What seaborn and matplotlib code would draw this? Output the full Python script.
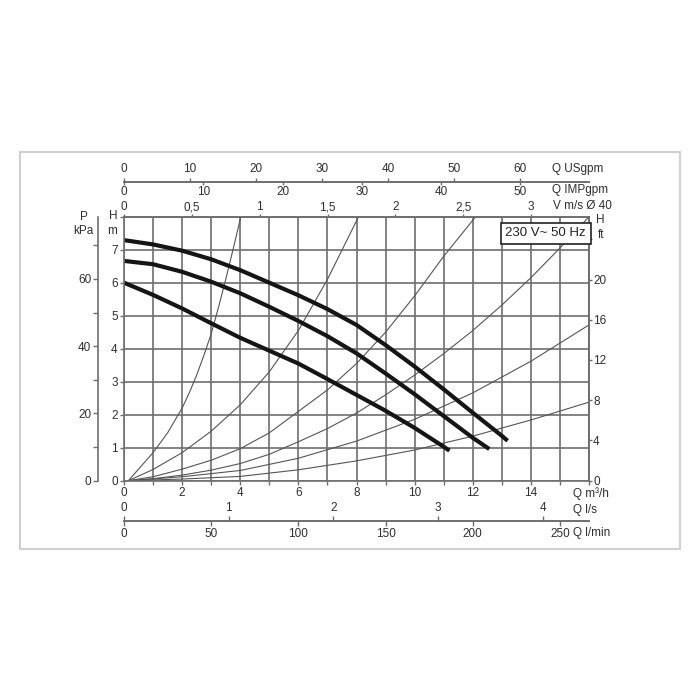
import matplotlib
matplotlib.use("Agg")
import matplotlib.pyplot as plt
import seaborn as sns
from matplotlib.patches import Rectangle

# pump curves (Q m3/h, H m)
q_pump_1 = [0, 1, 2, 3, 4, 5, 6, 7, 8, 9, 10, 11, 12, 13, 13.2]
h_pump_1 = [7.29, 7.16, 6.97, 6.71, 6.38, 6.0, 5.62, 5.2, 4.72, 4.11, 3.46, 2.77, 2.06, 1.36, 1.21]
q_pump_2 = [0, 1, 2, 3, 4, 5, 6, 7, 8, 9, 10, 11, 12, 12.57]
h_pump_2 = [6.66, 6.56, 6.33, 6.03, 5.68, 5.27, 4.84, 4.38, 3.86, 3.25, 2.62, 1.96, 1.30, 0.96]
q_pump_3 = [0, 1, 2, 3, 4, 5, 6, 7, 8, 9, 10, 11, 11.2]
h_pump_3 = [6.0, 5.63, 5.22, 4.77, 4.33, 3.94, 3.55, 3.08, 2.6, 2.12, 1.6, 1.03, 0.91]

# system curves
q_sys_1 = [0.15, 0.5, 1, 1.5, 2, 2.25, 2.5, 2.75, 3, 3.25, 3.5, 3.75, 4.02]
h_sys_1 = [0, 0.35, 0.85, 1.45, 2.2, 2.67, 3.2, 3.8, 4.45, 5.25, 6.1, 7.0, 8.0]
q_sys_2 = [0.15, 1, 2, 3, 4, 5, 6, 7, 8.07]
h_sys_2 = [0, 0.34, 0.85, 1.5, 2.3, 3.3, 4.55, 6.1, 8.0]
q_sys_3 = [0.15, 1, 2, 3, 4, 5, 6, 7, 8, 9, 10, 11, 12.1]
h_sys_3 = [0, 0.12, 0.35, 0.62, 0.97, 1.45, 2.1, 2.75, 3.55, 4.5, 5.6, 6.8, 8.0]
q_sys_4 = [0.15, 1, 2, 3, 4, 5, 6, 7, 8, 9, 10, 11, 12, 13, 14, 15, 16]
h_sys_4 = [0, 0.06, 0.17, 0.32, 0.52, 0.8, 1.18, 1.58, 2.05, 2.6, 3.2, 3.85, 4.55, 5.32, 6.15, 7.05, 8.0]
q_sys_5 = [0.15, 2, 4, 6, 8, 10, 12, 14, 16]
h_sys_5 = [0, 0.12, 0.31, 0.68, 1.2, 1.86, 2.66, 3.62, 4.72]
q_sys_6 = [0.15, 2, 4, 6, 8, 10, 12, 14, 16]
h_sys_6 = [0, 0.05, 0.13, 0.33, 0.6, 0.93, 1.35, 1.84, 2.38]

# tick values / labels
x_ticks = list(range(0, 17))
x_labels = ["0", "", "2", "", "4", "", "6", "", "8", "", "10", "", "12", "", "14", "", ""]
y_ticks = list(range(0, 9))
y_labels = ["0", "1", "2", "3", "4", "5", "6", "7", ""]
kpa_ticks = [0, 10, 20, 30, 40, 50, 60, 70]
kpa_labels = ["0", "", "20", "", "40", "", "60", ""]
ft_ticks = [0, 4, 8, 12, 16, 20, 24]
ft_labels = ["0", "4", "8", "12", "16", "20", ""]
v_ticks = [0, 0.5, 1, 1.5, 2, 2.5, 3]
v_labels = ["0", "0,5", "1", "1,5", "2", "2,5", "3"]
usgpm_ticks = [0, 10, 20, 30, 40, 50, 60]
impgpm_ticks = [0, 10, 20, 30, 40, 50]
ls_ticks = [0, 1, 2, 3, 4]
lmin_ticks = [0, 50, 100, 150, 200, 250]

sns.set_theme(style="ticks")
plt.rcParams["font.family"] = ["Liberation Sans", "DejaVu Sans"]

W = 700.0
gc = "#6e6e6e"
tc = "#2e2e2e"
fs = 8.5

fig = plt.figure(figsize=(7, 7), dpi=100)
ax = fig.add_axes([124 / W, (W - 480.7) / W, 465 / W, 264 / W])

for q, h in [(q_sys_1, h_sys_1), (q_sys_2, h_sys_2), (q_sys_3, h_sys_3),
             (q_sys_4, h_sys_4), (q_sys_5, h_sys_5), (q_sys_6, h_sys_6)]:
    sns.lineplot(x=q, y=h, ax=ax, color="#555555", lw=0.8, sort=False, estimator=None)

for q, h in [(q_pump_1, h_pump_1), (q_pump_2, h_pump_2), (q_pump_3, h_pump_3)]:
    sns.lineplot(x=q, y=h, ax=ax, color="#151515", lw=3.0, sort=False, estimator=None,
                 solid_capstyle="butt")

ax.set_xlim(0, 16)
ax.set_ylim(0, 8)
ax.set_xticks(x_ticks)
ax.set_xticklabels(x_labels)
ax.set_yticks(y_ticks)
ax.set_yticklabels(y_labels)
ax.grid(True, color=gc, lw=1.2)
ax.set_axisbelow(True)
for s in ax.spines.values():
    s.set_color(gc)
    s.set_linewidth(1.2)
ax.tick_params(axis="both", length=3, width=1, color=gc, labelsize=fs, labelcolor=tc, pad=1.5)
ax.set_xlabel("")
ax.set_ylabel("")


def style_sec(sec, spine, length=3.5, pad=1.5):
    sec.spines[spine].set_color(gc)
    sec.spines[spine].set_linewidth(1.2)
    sec.tick_params(length=length, width=1, color=gc, labelsize=fs, labelcolor=tc, pad=pad)


# pressure axis on the left
sec_p = ax.secondary_yaxis(-25.7 / 465, functions=(lambda h: h * 9.81, lambda p: p / 9.81))
sec_p.set_yticks(kpa_ticks)
sec_p.set_yticklabels(kpa_labels)
style_sec(sec_p, "left")

# feet on the right
sec_ft = ax.secondary_yaxis("right", functions=(lambda h: h * 3.2808, lambda f: f / 3.2808))
sec_ft.set_yticks(ft_ticks)
sec_ft.set_yticklabels(ft_labels)
style_sec(sec_ft, "right", length=2.5, pad=0.5)

# velocity on top
sec_v = ax.secondary_xaxis("top", functions=(lambda q: q / 4.67, lambda v: v * 4.67))
sec_v.set_xticks(v_ticks)
sec_v.set_xticklabels(v_labels)
style_sec(sec_v, "top", length=2.0, pad=0.5)

# gpm line
loc_g = (480.7 - 182) / 264
sec_us = ax.secondary_xaxis(loc_g, functions=(lambda q: q * 4.403, lambda g: g / 4.403))
sec_us.set_xticks(usgpm_ticks)
style_sec(sec_us, "top", length=3.0, pad=2.0)
sec_imp = ax.secondary_xaxis(loc_g, functions=(lambda q: q * 3.666, lambda g: g / 3.666))
sec_imp.set_alignment("bottom")
sec_imp.set_xticks(impgpm_ticks)
style_sec(sec_imp, "bottom", length=2.5, pad=0.3)

# l/s and l/min line
loc_b = (480.7 - 521) / 264
sec_lmin = ax.secondary_xaxis(loc_b, functions=(lambda q: q * 16.667, lambda l: l / 16.667))
sec_lmin.set_xticks(lmin_ticks)
style_sec(sec_lmin, "bottom")
sec_ls = ax.secondary_xaxis(loc_b, functions=(lambda q: q / 3.6, lambda l: l * 3.6))
sec_ls.set_alignment("top")
sec_ls.set_xticks(ls_ticks)
style_sec(sec_ls, "top")


def ftxt(x, y, s, ha="left", **kw):
    fig.text(x / W, 1 - y / W, s, ha=ha, va="center", fontsize=fs, color=tc, **kw)


ftxt(552, 169, "Q USgpm")
ftxt(552, 190.5, "Q IMPgpm")
ftxt(553, 206.5, "V m/s Ø 40")
ftxt(600, 220, "H", ha="center")
ftxt(601, 235, "ft", ha="center")
ftxt(83.5, 216.5, "P", ha="center")
ftxt(83.5, 231.5, "kPa", ha="center")
ftxt(113, 216, "H", ha="center")
ftxt(112, 231, "m", ha="center")
ftxt(573, 494, "Q m³/h")
ftxt(573, 510, "Q l/s")
ftxt(573, 533, "Q l/min")

fig.text(545.8 / W, 1 - 233.3 / W, "230 V~ 50 Hz", ha="center", va="center",
         fontsize=9.5, color="#222222",
         bbox=dict(boxstyle="square,pad=0.35", fc="white", ec="#222222", lw=1.2), zorder=10)

fig.patches.append(Rectangle((20 / W, 1 - 549 / W), 660 / W, 397.5 / W,
                             transform=fig.transFigure, fill=False, ec="#d0d0d0", lw=1.5))

fig.savefig("out.png", dpi=100, facecolor="white")
